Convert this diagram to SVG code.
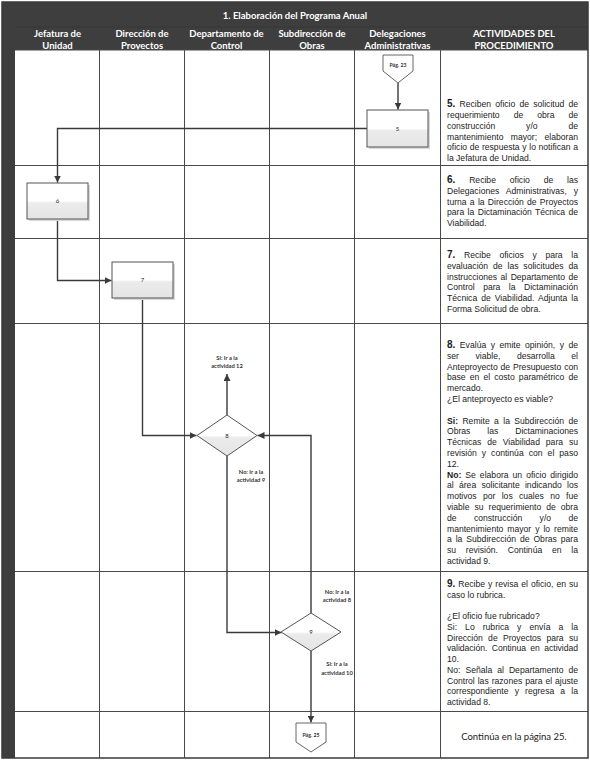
<svg xmlns="http://www.w3.org/2000/svg" width="590" height="764" viewBox="0 0 590 764">
<defs>
<linearGradient id="gfill" x1="0" y1="0" x2="0" y2="1">
<stop offset="0" stop-color="#ffffff"/><stop offset="0.5" stop-color="#ffffff"/><stop offset="0.55" stop-color="#ececec"/><stop offset="1" stop-color="#e4e4e4"/>
</linearGradient>
<marker id="arr" markerUnits="userSpaceOnUse" markerWidth="8" markerHeight="7" refX="7" refY="3.5" orient="auto">
<path d="M0,0 L7,3.5 L0,7 z" fill="#3a3a3a"/>
</marker>
</defs>
<style>
.hdr{font-family:Lato,"Open Sans",sans-serif;font-weight:bold;font-size:9.5px;fill:#ffffff;text-anchor:middle}
.grid{stroke:#4a4a4a;stroke-width:1;fill:none}
.body{font-family:"Liberation Sans",Arial,sans-serif;font-size:8.6px;fill:#1c1c1c}
.num{font-weight:bold;font-size:10px}
.bb{font-weight:bold}
.box{fill:url(#gfill);stroke:#555555;stroke-width:1}
.shadow{fill:#d8d8d8}
.lbl{font-family:Lato,"Open Sans",sans-serif;font-size:6px;fill:#222;text-anchor:middle}
.clbl{font-family:Lato,"Open Sans",sans-serif;font-weight:bold;font-size:5.8px;fill:#333;text-anchor:middle}
.conn{stroke:#3a3a3a;stroke-width:1.4;fill:none}
.off{fill:#ffffff;stroke:#666;stroke-width:1}
.ptxt{font-family:Lato,"Open Sans",sans-serif;font-weight:bold;font-size:5.2px;fill:#333;text-anchor:middle}
</style>
<rect x="0" y="0" width="590" height="764" fill="#ffffff"/>
<g id="frame">
<rect x="2" y="2" width="586" height="48" fill="#3e3e3e"/>
<rect x="2" y="2" width="13" height="756" fill="#3e3e3e"/>
<line x1="15" y1="27" x2="588" y2="27" stroke="#333" stroke-width="0.6"/>
<text class="hdr" x="295" y="18.5">1. Elaboración del Programa Anual</text>
<text class="hdr" x="57.5" y="36.5">Jefatura de</text><text class="hdr" x="57.5" y="48.5">Unidad</text>
<text class="hdr" x="142" y="36.5">Dirección de</text><text class="hdr" x="142" y="48.5">Proyectos</text>
<text class="hdr" x="226.5" y="36.5">Departamento de</text><text class="hdr" x="226.5" y="48.5">Control</text>
<text class="hdr" x="312" y="36.5">Subdirección de</text><text class="hdr" x="312" y="48.5">Obras</text>
<text class="hdr" x="397.5" y="36.5">Delegaciones</text><text class="hdr" x="397.5" y="48.5">Administrativas</text>
<text class="hdr" x="514" y="36.5">ACTIVIDADES DEL</text><text class="hdr" x="514" y="48.5">PROCEDIMIENTO</text>
<path class="grid" d="M99.5,50V758 M184.5,50V758 M269.5,50V758 M354.5,50V758 M440.5,50V758 M15,50H588 M15,165.5H588 M15,238.5H588 M15,323.5H588 M15,571.5H588 M15,711.5H588"/>
<rect x="2" y="2" width="586" height="756" fill="none" stroke="#3a3a3a" stroke-width="1.5"/>
</g>
<g id="connectors">
<path class="conn" d="M398,83 V109.5" marker-end="url(#arr)"/>
<path class="conn" d="M367,128.5 H57.5 V182.5" marker-end="url(#arr)"/>
<path class="conn" d="M57.5,219 V280.5 H111.5" marker-end="url(#arr)"/>
<path class="conn" d="M142.5,298 V435.5 H196.5" marker-end="url(#arr)"/>
<path class="conn" d="M227,415 V374" marker-end="url(#arr)"/>
<path class="conn" d="M227,456 V632.5 H281.5" marker-end="url(#arr)"/>
<path class="conn" d="M311,613 V435.5 H257.5" marker-end="url(#arr)"/>
<path class="conn" d="M311,651 V722.5" marker-end="url(#arr)"/>
<text class="clbl" x="227" y="359.5">Si: Ir a la</text><text class="clbl" x="227" y="368">actividad 12</text>
<text class="clbl" x="251" y="473.5">No: Ir a la</text><text class="clbl" x="251" y="482">actividad 9</text>
<text class="clbl" x="337" y="593.5">No: Ir a la</text><text class="clbl" x="337" y="602">actividad 8</text>
<text class="clbl" x="337" y="666">Si: Ir a la</text><text class="clbl" x="337" y="674.5">actividad 10</text>
</g>
<g id="pag23">
<path class="off" d="M383,55 H413 V71 L398,83 L383,71 Z"/>
<text class="ptxt" x="398" y="67">Pág. 23</text>
</g>
<g id="n5">
<rect class="shadow" x="369" y="112" width="61" height="37"/>
<rect class="box" x="367" y="110" width="61" height="37"/>
<text class="lbl" x="397.5" y="131">5</text>
</g>
<g id="n6">
<rect class="shadow" x="29" y="185" width="61" height="36"/>
<rect class="box" x="27" y="183" width="61" height="36"/>
<text class="lbl" x="57.5" y="203">6</text>
</g>
<g id="n7">
<rect class="shadow" x="114" y="264" width="61" height="36"/>
<rect class="box" x="112" y="262" width="61" height="36"/>
<text class="lbl" x="142.5" y="282">7</text>
</g>
<g id="n8">
<path class="box" d="M227,415 L257,435.5 L227,456 L197,435.5 Z"/>
<text class="lbl" x="227" y="437.5">8</text>
</g>
<g id="n9">
<path class="box" d="M311,613 L341,632 L311,651 L281,632 Z"/>
<text class="lbl" x="311" y="634">9</text>
</g>
<g id="pag25">
<path class="off" d="M296,723 H326 V742 L311,752 L296,742 Z"/>
<text class="ptxt" x="311" y="737">Pág. 25</text>
</g>
<g id="t5" class="body">
<text x="447" y="107.3" textLength="131" lengthAdjust="spacing" style="word-spacing:1.8px"><tspan class="num">5.</tspan> Reciben oficio de solicitud de</text>
<text x="447" y="118" textLength="131" lengthAdjust="spacing" style="word-spacing:11.6px">requerimiento de obra de</text>
<text x="447" y="128.8" textLength="131" lengthAdjust="spacing" style="word-spacing:28.5px">construcción y/o de</text>
<text x="447" y="139.5" textLength="131" lengthAdjust="spacing" style="word-spacing:5px">mantenimiento mayor; elaboran</text>
<text x="447" y="150.3" textLength="131" lengthAdjust="spacing" style="word-spacing:0.25px">oficio de respuesta y lo notifican a</text>
<text x="447" y="161">la Jefatura de Unidad.</text>
</g>
<g id="t6" class="body">
<text x="447" y="183" textLength="131" lengthAdjust="spacing" style="word-spacing:11.4px"><tspan class="num">6.</tspan> Recibe oficio de las</text>
<text x="447" y="193.7" textLength="131" lengthAdjust="spacing" style="word-spacing:4.5px">Delegaciones Administrativas, y</text>
<text x="447" y="204.5" textLength="131" lengthAdjust="spacing" style="word-spacing:0.86px">turna a la Dirección de Proyectos</text>
<text x="447" y="215.2" textLength="131" lengthAdjust="spacing" style="word-spacing:0.97px">para la Dictaminación Técnica de</text>
<text x="447" y="226">Viabilidad.</text>
</g>
<g id="t7" class="body">
<text x="447" y="258" textLength="131" lengthAdjust="spacing" style="word-spacing:6.3px"><tspan class="num">7.</tspan> Recibe oficios y para la</text>
<text x="447" y="268.7" textLength="131" lengthAdjust="spacing" style="word-spacing:2.5px">evaluación de las solicitudes da</text>
<text x="447" y="279.5" textLength="131" lengthAdjust="spacing" style="word-spacing:1.15px">instrucciones al Departamento de</text>
<text x="447" y="290.2" textLength="131" lengthAdjust="spacing" style="word-spacing:6px">Control para la Dictaminación</text>
<text x="447" y="301" textLength="131" lengthAdjust="spacing" style="word-spacing:1.56px">Técnica de Viabilidad. Adjunta la</text>
<text x="447" y="311.7">Forma Solicitud de obra.</text>
</g>
<g id="t8" class="body">
<text x="447" y="348" textLength="131" lengthAdjust="spacing" style="word-spacing:2px"><tspan class="num">8.</tspan> Evalúa y emite opinión, y de</text>
<text x="447" y="358.8" textLength="131" lengthAdjust="spacing" style="word-spacing:14.2px">ser viable, desarrolla el</text>
<text x="447" y="369.6" textLength="131" lengthAdjust="spacing" style="word-spacing:0.48px">Anteproyecto de Presupuesto con</text>
<text x="447" y="380.4" textLength="131" lengthAdjust="spacing" style="word-spacing:1.7px">base en el costo paramétrico de</text>
<text x="447" y="391.2">mercado.</text>
<text x="447" y="402">¿El anteproyecto es viable?</text>
<text x="447" y="423.6" textLength="131" lengthAdjust="spacing" style="word-spacing:2px"><tspan class="bb">Si:</tspan> Remite a la Subdirección de</text>
<text x="447" y="434.4" textLength="131" lengthAdjust="spacing" style="word-spacing:14.6px">Obras las Dictaminaciones</text>
<text x="447" y="445.2" textLength="131" lengthAdjust="spacing" style="word-spacing:3.5px">Técnicas de Viabilidad para su</text>
<text x="447" y="456" textLength="131" lengthAdjust="spacing" style="word-spacing:2.6px">revisión y continúa con el paso</text>
<text x="447" y="466.8">12.</text>
<text x="447" y="477.6" textLength="131" lengthAdjust="spacing" style="word-spacing:1.6px"><tspan class="bb">No:</tspan> Se elabora un oficio dirigido</text>
<text x="447" y="488.4" textLength="131" lengthAdjust="spacing" style="word-spacing:2.9px">al área solicitante indicando los</text>
<text x="447" y="499.2" textLength="131" lengthAdjust="spacing" style="word-spacing:3.9px">motivos por los cuales no fue</text>
<text x="447" y="510" textLength="131" lengthAdjust="spacing" style="word-spacing:2.6px">viable su requerimiento de obra</text>
<text x="447" y="520.8" textLength="131" lengthAdjust="spacing" style="word-spacing:15px">de construcción y/o de</text>
<text x="447" y="531.6" textLength="131" lengthAdjust="spacing" style="word-spacing:1.6px">mantenimiento mayor y lo remite</text>
<text x="447" y="542.4" textLength="131" lengthAdjust="spacing" style="word-spacing:1.5px">a la Subdirección de Obras para</text>
<text x="447" y="553.2" textLength="131" lengthAdjust="spacing" style="word-spacing:7.3px">su revisión. Continúa en la</text>
<text x="447" y="564">actividad 9.</text>
</g>
<g id="t9" class="body">
<text x="447" y="587" textLength="131" lengthAdjust="spacing" style="word-spacing:0.6px"><tspan class="num">9.</tspan> Recibe y revisa el oficio, en su</text>
<text x="447" y="597.7">caso lo rubrica.</text>
<text x="447" y="619.2">¿El oficio fue rubricado?</text>
<text x="447" y="630" textLength="131" lengthAdjust="spacing" style="word-spacing:5.6px">Si: Lo rubrica y envía a la</text>
<text x="447" y="640.7" textLength="131" lengthAdjust="spacing" style="word-spacing:2.9px">Dirección de Proyectos para su</text>
<text x="447" y="651.4" textLength="131" lengthAdjust="spacing" style="word-spacing:2px">validación. Continua en actividad</text>
<text x="447" y="662.2">10.</text>
<text x="447" y="672.9" textLength="131" lengthAdjust="spacing" style="word-spacing:2.6px">No: Señala al Departamento de</text>
<text x="447" y="683.6" textLength="131" lengthAdjust="spacing" style="word-spacing:0.58px">Control las razones para el ajuste</text>
<text x="447" y="694.4" textLength="131" lengthAdjust="spacing" style="word-spacing:3.8px">correspondiente y regresa a la</text>
<text x="447" y="705.1">actividad 8.</text>
</g>
<g id="t10">
<text x="514" y="740" style="font-family:Lato,'Open Sans',sans-serif;font-size:9.5px;fill:#222;text-anchor:middle">Continúa en la página 25.</text>
</g>
</svg>
